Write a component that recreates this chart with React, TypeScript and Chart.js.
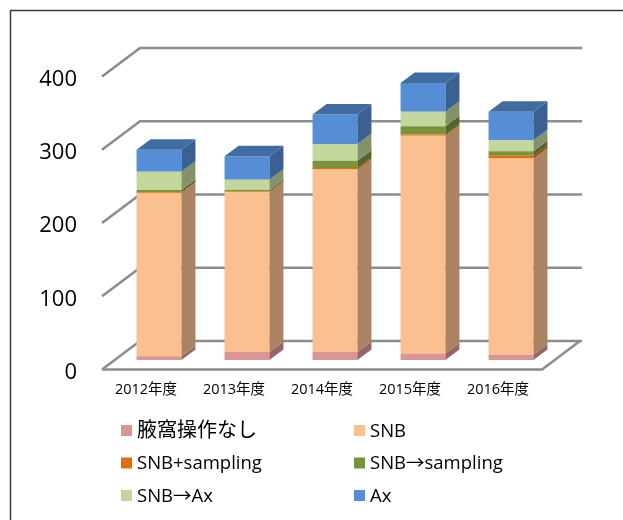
import React, { useEffect, useRef } from 'react';
import { Chart, registerables } from 'chart.js';

Chart.register(...registerables);

const categories = ['2012年度', '2013年度', '2014年度', '2015年度', '2016年度'];
const seriesLabels = ['腋窩操作なし', 'SNB', 'SNB+sampling', 'SNB→sampling', 'SNB→Ax', 'Ax'];
const noAxilla = [5, 11, 11, 9, 7];
const snb = [223, 218, 249, 297, 268];
const snbPlusSampling = [1, 1, 2, 2, 4];
const snbToSampling = [3, 2, 10, 11, 6];
const snbToAx = [25, 14, 23, 20, 15];
const ax = [30, 32, 40, 39, 39];
const seriesColors = ['#D99694', '#FAC090', '#E46C0A', '#77933C', '#C3D69B', '#558ED5'];
const yMin = 0;
const yMax = 400;
const yStep = 100;

const FRONT = { x: -13, y: 9.5 };
const BACK = { x: 25, y: -19 };
const BAR_DEPTH = { x: 14, y: -10.5 };
const FONT = '"Open Sans", "Noto Sans CJK JP", sans-serif';

function shade(hex: string, f: number): string {
  const n = parseInt(hex.slice(1), 16);
  const r = Math.round(((n >> 16) & 255) * f);
  const g = Math.round(((n >> 8) & 255) * f);
  const b = Math.round((n & 255) * f);
  return `rgb(${r},${g},${b})`;
}

const threeD = {
  id: 'threeD',
  beforeDraw(chart: any) {
    const ctx = chart.ctx;
    ctx.save();
    ctx.fillStyle = '#ffffff';
    ctx.fillRect(0, 0, chart.width, chart.height);
    ctx.strokeStyle = '#3a3a3a';
    ctx.lineWidth = 1.5;
    ctx.strokeRect(10.5, 10.5, chart.width + 40, chart.height + 40);
    ctx.restore();
  },
  beforeDatasetsDraw(chart: any) {
    const { ctx, chartArea, scales } = chart;
    const { left, right } = chartArea;
    const y = scales.y;
    ctx.save();
    ctx.strokeStyle = '#8c8c8c';
    ctx.lineWidth = 2.5;
    y.ticks.forEach((t: any) => {
      const py = y.getPixelForValue(t.value);
      ctx.beginPath();
      ctx.moveTo(left + FRONT.x, py + FRONT.y);
      ctx.lineTo(left + BACK.x, py + BACK.y);
      ctx.lineTo(right + BACK.x + 2, py + BACK.y);
      ctx.stroke();
    });
    const p0 = y.getPixelForValue(0);
    ctx.beginPath();
    ctx.moveTo(left + FRONT.x, p0 + FRONT.y);
    ctx.lineTo(right + FRONT.x, p0 + FRONT.y);
    ctx.lineTo(right + BACK.x, p0 + BACK.y);
    ctx.stroke();
    ctx.restore();
  },
  afterDatasetsDraw(chart: any) {
    const ctx = chart.ctx;
    const n = chart.data.datasets.length;
    ctx.save();
    for (let d = 0; d < n; d++) {
      const meta = chart.getDatasetMeta(d);
      const color = chart.data.datasets[d].backgroundColor as string;
      meta.data.forEach((el: any) => {
        const { x, y, base, width } = el.getProps(['x', 'y', 'base', 'width'], true);
        const l = x - width / 2;
        const r = x + width / 2;
        ctx.fillStyle = shade(color, 0.68);
        ctx.beginPath();
        ctx.moveTo(r, y);
        ctx.lineTo(r + BAR_DEPTH.x, y + BAR_DEPTH.y);
        ctx.lineTo(r + BAR_DEPTH.x, base + BAR_DEPTH.y);
        ctx.lineTo(r, base);
        ctx.closePath();
        ctx.fill();
        if (d === n - 1) {
          ctx.fillStyle = shade(color, 0.76);
          ctx.beginPath();
          ctx.moveTo(l, y);
          ctx.lineTo(l + BAR_DEPTH.x, y + BAR_DEPTH.y);
          ctx.lineTo(r + BAR_DEPTH.x, y + BAR_DEPTH.y);
          ctx.lineTo(r, y);
          ctx.closePath();
          ctx.fill();
        }
      });
    }
    ctx.restore();
  },
  afterDraw(chart: any) {
    const ctx = chart.ctx;
    ctx.save();
    ctx.textBaseline = 'middle';
    ctx.textAlign = 'left';
    chart.data.datasets.forEach((ds: any, i: number) => {
      const col = i % 2;
      const row = Math.floor(i / 2);
      const bx = col === 0 ? 121 : 354;
      const cy = 430.5 + row * 32.5;
      ctx.fillStyle = ds.backgroundColor;
      ctx.fillRect(bx, cy - 5.5, 11, 11);
      ctx.fillStyle = '#000000';
      ctx.font = /[^\x00-\x7F→]/.test(ds.label) ? `20px ${FONT}` : `18.5px ${FONT}`;
      ctx.fillText(ds.label, bx + 16, cy + 1);
    });
    ctx.restore();
  },
};

const seriesData = [noAxilla, snb, snbPlusSampling, snbToSampling, snbToAx, ax];

export default function App() {
  const ref = useRef<HTMLCanvasElement | null>(null);
  useEffect(() => {
    if (!ref.current) return;
    const chart = new Chart(ref.current, {
      type: 'bar',
      data: {
        labels: categories,
        datasets: seriesData.map((d, i) => ({
          label: seriesLabels[i],
          data: d,
          backgroundColor: seriesColors[i],
          borderWidth: 0,
          categoryPercentage: 1,
          barPercentage: 0.51,
        })),
      },
      options: {
        animation: false,
        responsive: true,
        maintainAspectRatio: false,
        events: [],
        layout: { padding: { top: 67, right: 68, left: 0, bottom: 0 } },
        plugins: { legend: { display: false }, tooltip: { enabled: false }, title: { display: false } },
        scales: {
          x: {
            stacked: true,
            grid: { display: false, drawTicks: false },
            border: { display: false },
            ticks: {
              color: '#000',
              font: { family: FONT, size: 14.5 },
              padding: 21,
              labelOffset: -13,
              maxRotation: 0,
              autoSkip: false,
            },
            afterFit: (s: any) => { s.height = 160; },
          },
          y: {
            stacked: true,
            min: yMin,
            max: yMax,
            grid: { display: false, drawTicks: false },
            border: { display: false },
            ticks: {
              stepSize: yStep,
              color: '#000',
              font: { family: FONT, size: 22 },
              padding: 38,
              labelOffset: 12.5,
            },
            afterFit: (s: any) => { s.width = 115; },
          },
        },
      },
      plugins: [threeD],
    });
    return () => chart.destroy();
  }, []);
  return (
    <div style={{ position: 'fixed', left: 0, top: 0, width: 623, height: 520, background: '#fff' }}>
      <canvas ref={ref} />
    </div>
  );
}
